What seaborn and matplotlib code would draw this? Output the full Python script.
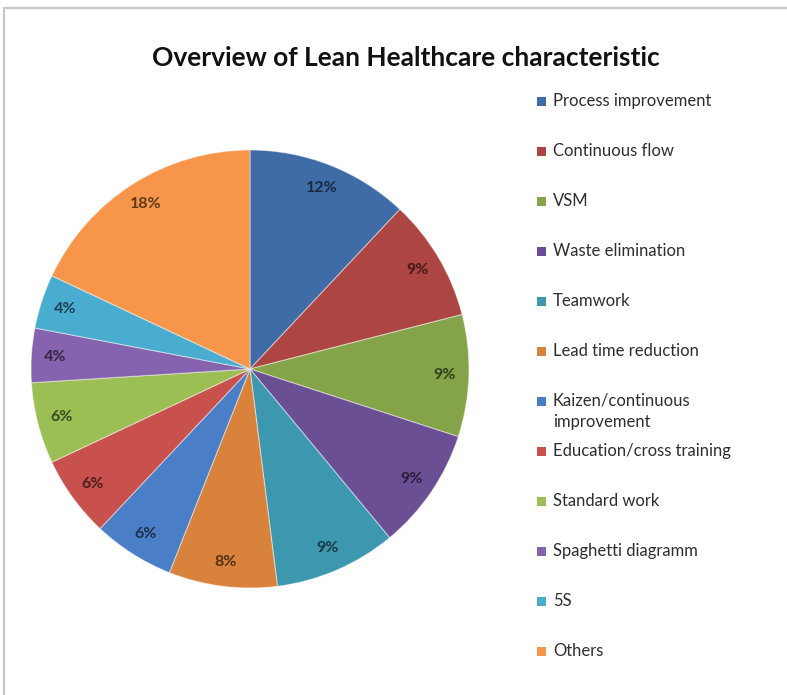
import matplotlib
matplotlib.use("Agg")
import matplotlib.pyplot as plt
import seaborn as sns
import numpy as np
from matplotlib.patches import Rectangle
from matplotlib.lines import Line2D

sns.set_theme(style="white")
plt.rcParams['font.family'] = ['Lato', 'DejaVu Sans']

# ---- data ----
categories = ["Process improvement", "Continuous flow", "VSM", "Waste elimination",
              "Teamwork", "Lead time reduction", "Kaizen/continuous\nimprovement",
              "Education/cross training", "Standard work", "Spaghetti diagramm",
              "5S", "Others"]
shares = [12, 9, 9, 9, 9, 8, 6, 6, 6, 4, 4, 18]
slice_colors = ["#3F6BA6", "#AD4542", "#85A348", "#6B4F94", "#3C97AF", "#D9823B",
                "#4A7EC6", "#C8504D", "#9BBF55", "#8563AE", "#4AADCF", "#F7964A"]
title = "Overview of Lean Healthcare characteristic"

W, H = 787, 695
fig = plt.figure(figsize=(W / 100, H / 100), dpi=100)
fig.patch.set_facecolor("white")

# frame lines (top and left) like the screenshot
fig.add_artist(Line2D([4 / W, 1.0], [1 - 8 / H, 1 - 8 / H], color="#C8C8C8", lw=1.6,
                      transform=fig.transFigure))
fig.add_artist(Line2D([4 / W, 4 / W], [0.0, 1 - 8 / H], color="#C8C8C8", lw=1.6,
                      transform=fig.transFigure))

# pie axes
cx, cy, R = 250, 369, 219
ax = fig.add_axes([(cx - R) / W, (H - cy - R) / H, 2 * R / W, 2 * R / H])
wedges, texts, autotexts = ax.pie(
    shares, colors=slice_colors, startangle=90, counterclock=False, radius=1,
    autopct=lambda p: f"{p:.0f}%", pctdistance=0.89,
    wedgeprops=dict(edgecolor=(1, 1, 1, 0.45), linewidth=0.8),
    textprops=dict(fontsize=11.5, fontweight="bold"))
for t, c in zip(autotexts, slice_colors):
    rgb = np.array(matplotlib.colors.to_rgb(c)) * 0.38
    t.set_color(rgb)
ax.set_xlim(-1, 1)
ax.set_ylim(-1, 1)
ax.set_aspect("equal")
ax.axis("off")

# title
fig.text(406 / W, 1 - 58 / H, title, ha="center", va="center",
         fontsize=19, fontweight="bold", color="#111111")

# legend (manual, fixed 50px slots)
for i, (cat, col) in enumerate(zip(categories, slice_colors)):
    y = 102 + 50 * i
    fig.add_artist(Rectangle(((541 - 4) / W, 1 - (y + 4) / H), 9 / W, 9 / H,
                             facecolor=col, edgecolor="none", transform=fig.transFigure))
    fig.text(553 / W, 1 - (y - 9) / H, cat, ha="left", va="top", fontsize=12,
             color="#2E2E2E", linespacing=1.38)

fig.savefig("out.png", dpi=100, facecolor="white")
